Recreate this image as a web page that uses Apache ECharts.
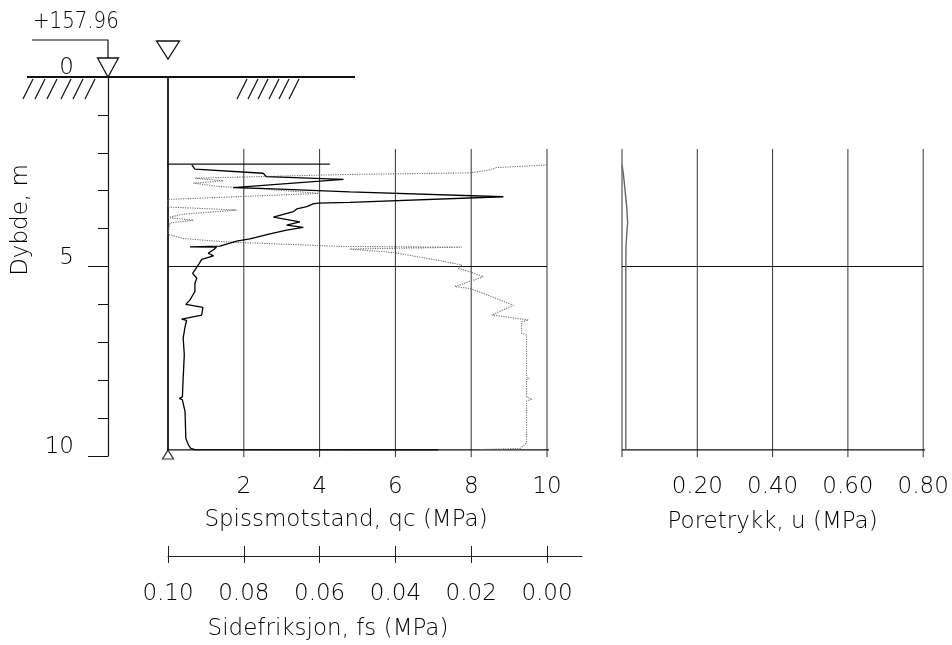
<!DOCTYPE html>
<html>
<head>
<meta charset="utf-8">
<script src="https://cdn.jsdelivr.net/npm/echarts@6/dist/echarts.min.js"></script>
<style>
  html, body { margin: 0; padding: 0; background: #fff; }
  #chart { width: 952px; height: 645px; }
</style>
</head>
<body>
<div id="chart"></div>
<script>
// CPT sounding: cone resistance qc, sleeve friction fs and pore pressure u against depth

// cone resistance qc (MPa)
const qcDepth = [2.32, 2.43, 2.54, 2.63, 2.70, 2.92, 2.94, 3.03, 3.16, 3.31, 3.33, 3.35, 3.42, 3.48, 3.55,
  3.70, 3.82, 3.91, 3.97, 4.04, 4.14, 4.27, 4.33, 4.46, 4.48, 4.49, 4.56, 4.65, 4.72, 4.81, 4.96,
  5.01, 5.18, 5.31, 5.44, 5.66, 5.88, 6.00, 6.08, 6.28, 6.35, 6.39, 6.42, 6.59, 6.89, 7.33, 7.95,
  8.44, 8.48, 8.52, 8.83, 9.53, 9.71, 9.80, 9.83, 9.84];
const qcValue = [0.63, 0.71, 2.51, 2.60, 4.63, 1.72, 2.43, 4.80, 8.85, 4.80, 3.96, 3.83, 3.66, 3.40, 3.31,
  2.78, 3.48, 3.13, 3.57, 3.13, 2.69, 2.16, 1.81, 1.37, 0.58, 1.28, 1.20, 1.06, 1.20, 0.89, 0.80,
  0.76, 0.65, 0.76, 0.71, 0.71, 0.58, 0.47, 0.92, 0.89, 0.56, 0.36, 0.49, 0.45, 0.40, 0.43, 0.40,
  0.38, 0.30, 0.38, 0.45, 0.47, 0.54, 0.60, 0.71, 7.13];

// sleeve friction fs (MPa), plotted on the reversed lower scale
const fsDepth = [2.32, 2.39, 2.45, 2.50, 2.53, 2.57, 2.67, 2.74, 2.80, 2.89, 2.95, 3.07, 3.23, 3.43, 3.51,
  3.62, 3.71, 3.78, 3.85, 4.15, 4.26, 4.35, 4.47, 4.49, 4.54, 4.63, 4.83, 4.96, 5.05, 5.14, 5.27,
  5.53, 5.58, 5.71, 6.02, 6.28, 6.37, 6.41, 6.46, 6.76, 6.81, 7.92, 7.95, 7.99, 8.44, 8.50, 8.55,
  9.66, 9.71, 9.80, 9.83];
const fsValue = [0.000, 0.0133, 0.0150, 0.0185, 0.0203, 0.0520, 0.0929, 0.0854, 0.0933, 0.0863, 0.0757, 0.0599, 0.1000, 0.1000, 0.0819,
  0.0960, 0.1000, 0.0933, 0.0995, 0.1000, 0.0960, 0.0850, 0.0546, 0.0225, 0.0520, 0.0406, 0.0291, 0.0225, 0.0234, 0.0203, 0.0168,
  0.0243, 0.0203, 0.0168, 0.0089, 0.0146, 0.0080, 0.0049, 0.0067, 0.0067, 0.0054, 0.0054, 0.0047, 0.0054, 0.0054, 0.0040, 0.0054,
  0.0054, 0.0058, 0.0071, 0.0177];

// pore pressure u (MPa)
const uDepth = [2.32, 2.54, 2.98, 3.42, 3.86, 4.04, 4.48, 5.01, 9.84];
const uValue = [0.000, 0.0035, 0.0080, 0.0125, 0.0150, 0.0133, 0.0106, 0.0101, 0.0101];

// scales and tick labels
const qcTicks = [2, 4, 6, 8, 10];
const uTicks = [0, 0.2, 0.4, 0.6, 0.8];
const fsTicks = [0.10, 0.08, 0.06, 0.04, 0.02, 0.00];
const depthRange = [0, 10];
const gridDepthRange = [1.90, 10.03];
const startDepth = 2.30;
const endDepth = 9.84;
const refDepth = 5;
const groundElevation = '+157.96';

const FONT = "'DejaVu Sans', sans-serif";
const WEIGHT = 200;
const INK = '#000';
const text = (size) => ({ fontFamily: FONT, fontWeight: WEIGHT, fontSize: size, color: INK });

const chart = echarts.init(document.getElementById('chart'), null, { renderer: 'canvas' });

function segment(xAxisIndex, yAxisIndex, points, style) {
  return {
    type: 'line', xAxisIndex, yAxisIndex, data: points, symbol: 'none', clip: false,
    silent: true, animation: false, z: style.z || 2,
    lineStyle: { color: style.color || INK, width: style.width || 1, type: style.type || 'solid' }
  };
}

const zip = (xs, ys) => xs.map((x, i) => [x, ys[i]]);

const series = [];
// vertical grid lines
qcTicks.forEach(v => series.push(segment(0, 0, [[v, gridDepthRange[0]], [v, gridDepthRange[1]]], { color: '#333' })));
uTicks.forEach(v => series.push(segment(2, 1, [[v, gridDepthRange[0]], [v, gridDepthRange[1]]], { color: '#333' })));
// reference depth line
series.push(segment(0, 0, [[0, refDepth], [10, refDepth]], { color: '#111' }));
series.push(segment(2, 1, [[0, refDepth], [0.8, refDepth]], { color: '#111' }));
// start and end of the sounding
series.push(segment(0, 0, [[-0.21, startDepth], [4.27, startDepth]], { color: '#111', width: 1.3 }));
series.push(segment(0, 0, [[-0.53, endDepth], [11.13, endDepth]], { color: '#111', width: 1.2 }));
series.push(segment(2, 1, [[0, endDepth], [0.88, endDepth]], { color: '#111', width: 1.2 }));
// rod line from ground to stop depth
series.push(segment(0, 0, [[0, 0], [0, endDepth]], { color: '#111', width: 1.8 }));

// measured curves
series.push(segment(1, 0, zip(fsValue, fsDepth), { color: '#6f6f6f', width: 1.1, type: [1.2, 1.2], z: 3 }));
series.push(segment(0, 0, zip(qcValue, qcDepth), { color: '#000', width: 1.3, z: 4 }));
series.push(segment(2, 1, zip(uValue, uDepth), { color: '#666', width: 1.4, z: 4 }));

// stop marker at the rod tip
series.push({
  type: 'scatter', xAxisIndex: 0, yAxisIndex: 0, data: [[0, endDepth]], clip: false, silent: true,
  symbol: 'triangle', symbolSize: [11, 9], symbolOffset: [0, 4.5], animation: false, z: 5,
  itemStyle: { color: '#fff', borderColor: '#000', borderWidth: 1.2 }
});

const hidden = { show: false };

chart.setOption({
  backgroundColor: '#fff',
  animation: false,
  grid: [
    { left: 168, top: 77, width: 379, height: 379 },
    { left: 622, top: 77, width: 301.2, height: 379 },
    { left: 168, top: 555, width: 414, height: 1 }
  ],
  xAxis: [
    {
      gridIndex: 0, type: 'value', min: 0, max: 10, interval: 2,
      axisLine: hidden, axisTick: hidden, splitLine: hidden,
      axisLabel: { ...text(23), margin: 31, verticalAlign: 'middle', formatter: v => (v === 0 ? '' : String(v)) },
      name: 'Spissmotstand, qc (MPa)', nameLocation: 'middle', nameGap: 64,
      nameTextStyle: { ...text(23), verticalAlign: 'middle', padding: [0, 23, 0, 0] }
    },
    { gridIndex: 0, type: 'value', min: 0, max: 0.1, inverse: true, show: false },
    {
      gridIndex: 1, type: 'value', min: 0, max: 0.8, interval: 0.2,
      axisLine: hidden, axisTick: hidden, splitLine: hidden,
      axisLabel: { ...text(23), margin: 31, verticalAlign: 'middle', formatter: v => (v === 0 ? '' : v.toFixed(2)) },
      name: 'Poretrykk, u (MPa)', nameLocation: 'middle', nameGap: 66,
      nameTextStyle: { ...text(23), verticalAlign: 'middle' }
    },
    {
      gridIndex: 2, type: 'value', min: -0.00923, max: 0.1, inverse: true, position: 'bottom',
      axisLine: { show: true, onZero: false, lineStyle: { color: '#222', width: 1 } },
      axisTick: { show: true, length: 7, customValues: fsTicks, lineStyle: { color: '#222' } },
      splitLine: hidden,
      axisLabel: { ...text(23), margin: 38, verticalAlign: 'middle', customValues: fsTicks, formatter: v => v.toFixed(2) },
      name: 'Sidefriksjon, fs (MPa)', nameLocation: 'middle', nameGap: 73,
      nameTextStyle: { ...text(23), verticalAlign: 'middle', padding: [0, 94, 0, 0] }
    },
    {
      gridIndex: 2, type: 'value', min: -0.00923, max: 0.1, inverse: true, position: 'bottom',
      axisLine: { show: false, onZero: false },
      axisTick: { show: true, inside: true, length: 10, customValues: fsTicks, lineStyle: { color: '#222' } },
      axisLabel: hidden, splitLine: hidden
    }
  ],
  yAxis: [
    {
      gridIndex: 0, type: 'value', inverse: true, min: depthRange[0], max: depthRange[1], interval: 5,
      position: 'left', offset: 60,
      axisLine: { show: true, onZero: false, lineStyle: { color: '#111', width: 1.2 } },
      axisTick: { show: true, length: 20, lineStyle: { color: '#111' } },
      minorTick: { show: true, splitNumber: 5, length: 10, lineStyle: { color: '#111' } },
      splitLine: hidden,
      axisLabel: { ...text(23), margin: 34, verticalAlign: 'bottom', lineHeight: 17 }
    },
    { gridIndex: 1, type: 'value', inverse: true, min: depthRange[0], max: depthRange[1], show: false },
    { gridIndex: 2, type: 'value', min: 0, max: 1, show: false }
  ],
  series
});

// ground surface, level symbols and elevation tag
const rodTop = chart.convertToPixel({ xAxisIndex: 0, yAxisIndex: 0 }, [0, 0]);
const px = rodTop[0];
const gy = rodTop[1];
const ax = px - 60;

const stroke = (w) => ({ stroke: '#111', lineWidth: w, fill: null });
const elements = [];
elements.push({ type: 'line', shape: { x1: ax - 81, y1: gy, x2: px + 187, y2: gy }, style: stroke(2) });
[-75, -63, -51, -37, -25, -13].map(o => ax + o)
  .concat([79, 90, 100, 111, 121, 131].map(o => px + o))
  .forEach(t => elements.push({ type: 'line', shape: { x1: t, y1: gy + 2, x2: t - 10, y2: gy + 22 }, style: stroke(1.3) }));
elements.push({ type: 'polyline', shape: { points: [[ax - 76, gy - 37], [ax, gy - 37], [ax, gy - 19]] }, style: stroke(1.2) });
elements.push({ type: 'polygon', shape: { points: [[ax - 10.5, gy - 19], [ax + 10.5, gy - 19], [ax, gy]] }, style: { stroke: '#111', lineWidth: 1.3, fill: '#fff' } });
elements.push({ type: 'polygon', shape: { points: [[px - 11.5, gy - 36], [px + 11.5, gy - 36], [px, gy - 18]] }, style: { stroke: '#111', lineWidth: 1.3, fill: '#fff' } });
elements.push({ type: 'text', x: ax - 75, y: gy - 55, scaleX: 0.86, style: { text: groundElevation, fontFamily: FONT, fontWeight: WEIGHT, fontSize: 23, fill: INK, align: 'left', verticalAlign: 'middle' } });
elements.push({ type: 'text', x: 21, y: 220, rotation: Math.PI / 2, style: { text: 'Dybde, m', fontFamily: FONT, fontWeight: WEIGHT, fontSize: 23, fill: INK, align: 'center', verticalAlign: 'middle' } });

chart.setOption({ graphic: { elements } });
</script>
</body>
</html>
